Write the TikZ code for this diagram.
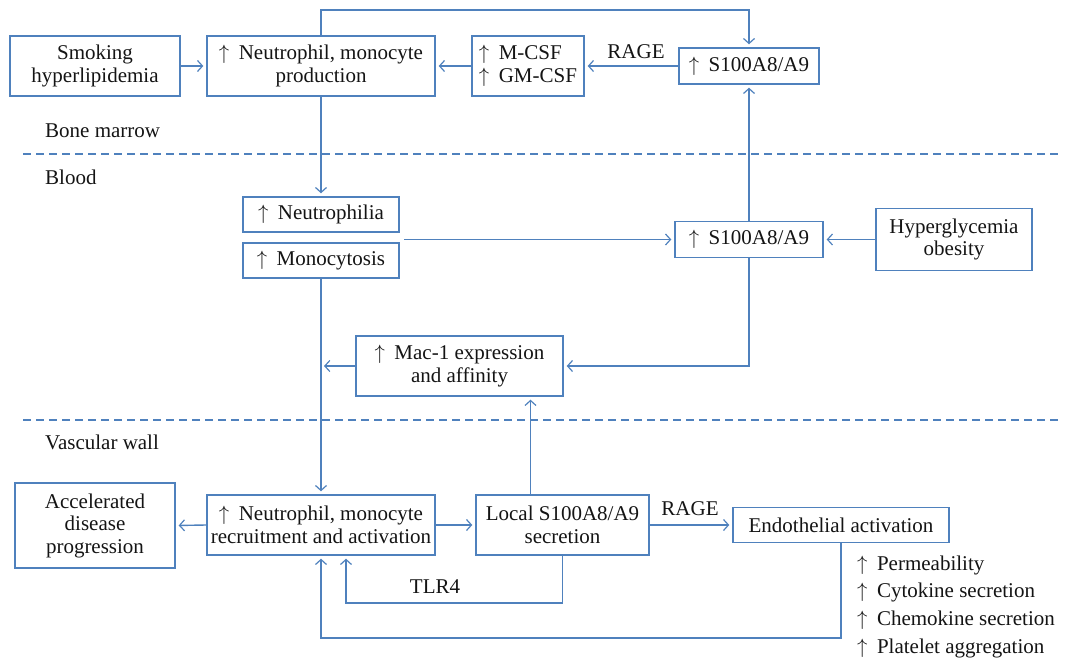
\documentclass[tikz,border=0pt]{standalone}
\usepackage{fontspec}
\setmainfont{Liberation Serif}
\usetikzlibrary{arrows.meta,calc}
\definecolor{lc}{RGB}{79,129,189}
\definecolor{tc}{RGB}{20,20,20}
\begin{document}
\begin{tikzpicture}[x=1pt,y=-1pt,
  box/.style={draw=lc,line width=1.4pt,inner sep=0pt,align=center,text=tc,
    font=\fontsize{21}{22.5}\selectfont},
  lbl/.style={inner sep=0pt,text=tc,font=\fontsize{21}{22.5}\selectfont},
  arr/.style={draw=lc,line width=1.4pt,-{Straight Barb[length=5pt,width=11pt,line width=1.2pt]},shorten >=3pt},
  dashln/.style={draw=lc,line width=1.3pt,dash pattern=on 8pt off 5pt}]
\useasboundingbox (0,0) rectangle (1065,660);
\newcommand{\up}{\(\uparrow\)\hspace{0.45em}}
% boxes
\node[box,minimum width=170,minimum height=60] (smoke) at (95,66) {Smoking\\hyperlipidemia};
\node[box,minimum width=228,minimum height=60] (prod) at (321,66) {\up Neutrophil, monocyte\\production};
\node[box,minimum width=112,minimum height=60,align=left] (csf) at (528,66) {\up M-CSF\\\up GM-CSF};
\node[box,minimum width=140,minimum height=36] (s100t) at (749,66) {\up S100A8/A9};
\node[box,minimum width=156,minimum height=35] (neutro) at (321,214.5) {\up Neutrophilia};
\node[box,minimum width=156,minimum height=35] (mono) at (321,260.5) {\up Monocytosis};
\node[box,minimum width=148,minimum height=36] (s100m) at (749,239.5) {\up S100A8/A9};
\node[box,minimum width=156,minimum height=62] (hyper) at (954,239.5) {Hyperglycemia\\obesity};
\node[box,minimum width=207,minimum height=60] (mac) at (459.5,366) {\up Mac-1 expression\\and affinity};
\node[box,minimum width=160,minimum height=85] (accel) at (95,525.5) {Accelerated\\disease\\progression};
\node[box,minimum width=228,minimum height=60] (prod2) at (321,525) {\up Neutrophil, monocyte\\recruitment and activation};
\node[box,minimum width=173,minimum height=60] (local) at (562.5,525) {Local S100A8/A9\\secretion};
\node[box,minimum width=216,minimum height=35] (endo) at (841,525) {Endothelial activation};
% region labels
\node[lbl,anchor=base west] (bm) at (45,138) {Bone marrow};
\node[lbl,anchor=base west] (blood) at (45,185) {Blood};
\node[lbl,anchor=base west] (vw) at (45,449) {Vascular wall};
% dashed separators
\coordinate (d1a) at (23,154); \coordinate (d1b) at (1060,154);
\coordinate (d2a) at (23,420); \coordinate (d2b) at (1060,420);
\draw[dashln] (d1a) -- (d1b);
\draw[dashln] (d2a) -- (d2b);
% connector labels
\node[lbl,anchor=base] (rage1) at (636,59) {RAGE};
\node[lbl,anchor=base] (rage2) at (690,515) {RAGE};
\node[lbl,anchor=base] (tlr) at (435,593) {TLR4};
% effects list
\node[lbl,anchor=base west] (e1) at (857,570) {\up Permeability};
\node[lbl,anchor=base west] (e2) at (857,597.5) {\up Cytokine secretion};
\node[lbl,anchor=base west] (e3) at (857,625.5) {\up Chemokine secretion};
\node[lbl,anchor=base west] (e4) at (857,653) {\up Platelet aggregation};
% connectors
\draw[arr] (smoke.east) -- (prod.west);
\draw[arr] (csf.west) -- (prod.east);
\draw[arr] (s100t.west) -- (csf.east);
\coordinate (loopL) at (321,10);
\coordinate (loopR) at (749,10);
\draw[arr] (prod.north) -- (loopL) -- (loopR) -- (s100t.north);
\draw[arr] (prod.south) -- (neutro.north);
\coordinate (nstart) at (404,239.5);
\draw[arr] (nstart) -- (s100m.west);
\draw[arr] (hyper.west) -- (s100m.east);
\draw[arr] (s100m.north) -- (s100t.south);
\draw[arr] (s100m.south) |- (mac.east);
\coordinate (mactip) at (321,366);
\draw[arr] (mac.west) -- (mactip);
\draw[arr] (mono.south) -- (prod2.north);
\coordinate (locup) at (530.5,495);
\draw[arr] (locup) -- (locup |- mac.south);
\draw[arr] (prod2.west) -- (accel.east);
\draw[arr] (prod2.east) -- (local.west);
\draw[arr] (local.east) -- (endo.west);
\coordinate (tlrc) at (346,603);
\draw[arr] (local.south) |- (tlrc) -- (tlrc |- prod2.south);
\coordinate (endc) at (321,638);
\draw[arr] (endo.south) |- (endc) -- (prod2.south);
\end{tikzpicture}
\end{document}
